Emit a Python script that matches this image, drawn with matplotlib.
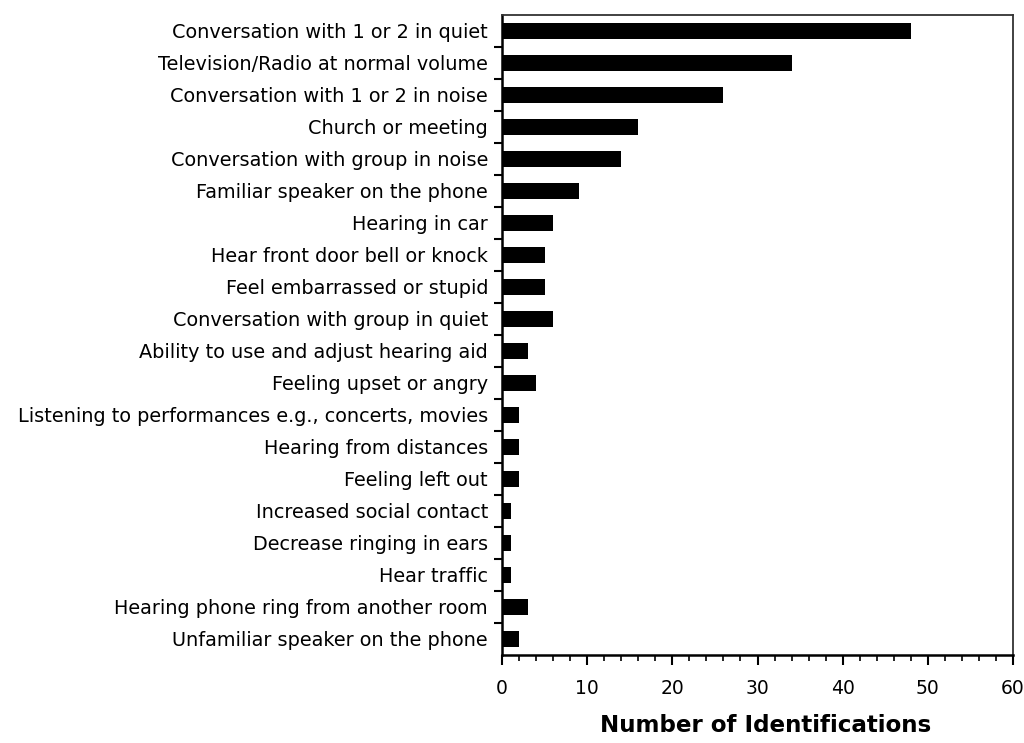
import matplotlib
matplotlib.use("Agg")
import matplotlib.pyplot as plt
import numpy as np
from matplotlib.ticker import MultipleLocator, FixedLocator

categories = [
    "Conversation with 1 or 2 in quiet",
    "Television/Radio at normal volume",
    "Conversation with 1 or 2 in noise",
    "Church or meeting",
    "Conversation with group in noise",
    "Familiar speaker on the phone",
    "Hearing in car",
    "Hear front door bell or knock",
    "Feel embarrassed or stupid",
    "Conversation with group in quiet",
    "Ability to use and adjust hearing aid",
    "Feeling upset or angry",
    "Listening to performances e.g., concerts, movies",
    "Hearing from distances",
    "Feeling left out",
    "Increased social contact",
    "Decrease ringing in ears",
    "Hear traffic",
    "Hearing phone ring from another room",
    "Unfamiliar speaker on the phone",
]
values = [48, 34, 26, 16, 14, 9, 6, 5, 5, 6, 3, 4, 2, 2, 2, 1, 1, 1, 3, 2]
x_ticks = [0, 10, 20, 30, 40, 50, 60]

plt.rcParams['font.family'] = ['DejaVu Sans']

fig = plt.figure(figsize=(10.24, 7.43), dpi=100)
ax = fig.add_axes([502/1024, 1-655/743, 511/1024, 640/743])

y = np.arange(len(categories))
ax.barh(y, values, height=0.5, color='black')
ax.set_ylim(len(categories)-0.5, -0.5)
ax.set_xlim(0, 60)

ax.set_yticks(y)
ax.set_yticklabels(categories, fontsize=13.9)
ax.yaxis.set_minor_locator(FixedLocator(np.arange(0.5, len(categories)-0.5, 1)))
ax.tick_params(axis='y', which='major', length=0, pad=10)
ax.tick_params(axis='y', which='minor', length=6, width=1.5, direction='out')

ax.set_xticks(x_ticks)
ax.set_xticklabels([str(t) for t in x_ticks], fontsize=13.5)
ax.xaxis.set_minor_locator(MultipleLocator(2))
ax.tick_params(axis='x', which='major', length=7, width=1.5, direction='out', pad=10)
ax.tick_params(axis='x', which='minor', length=4, width=1.2, direction='out')

ax.spines['left'].set_linewidth(1.8)
ax.spines['bottom'].set_linewidth(1.8)
ax.spines['top'].set_linewidth(1.3)
ax.spines['right'].set_linewidth(1.3)
ax.spines['top'].set_color('#333333')
ax.spines['right'].set_color('#333333')

ax.set_xlabel("Number of Identifications", fontsize=16.6, fontweight='bold')
ax.xaxis.set_label_coords(0.5 + 8/511, -0.092)

fig.savefig("out.png", dpi=100)
